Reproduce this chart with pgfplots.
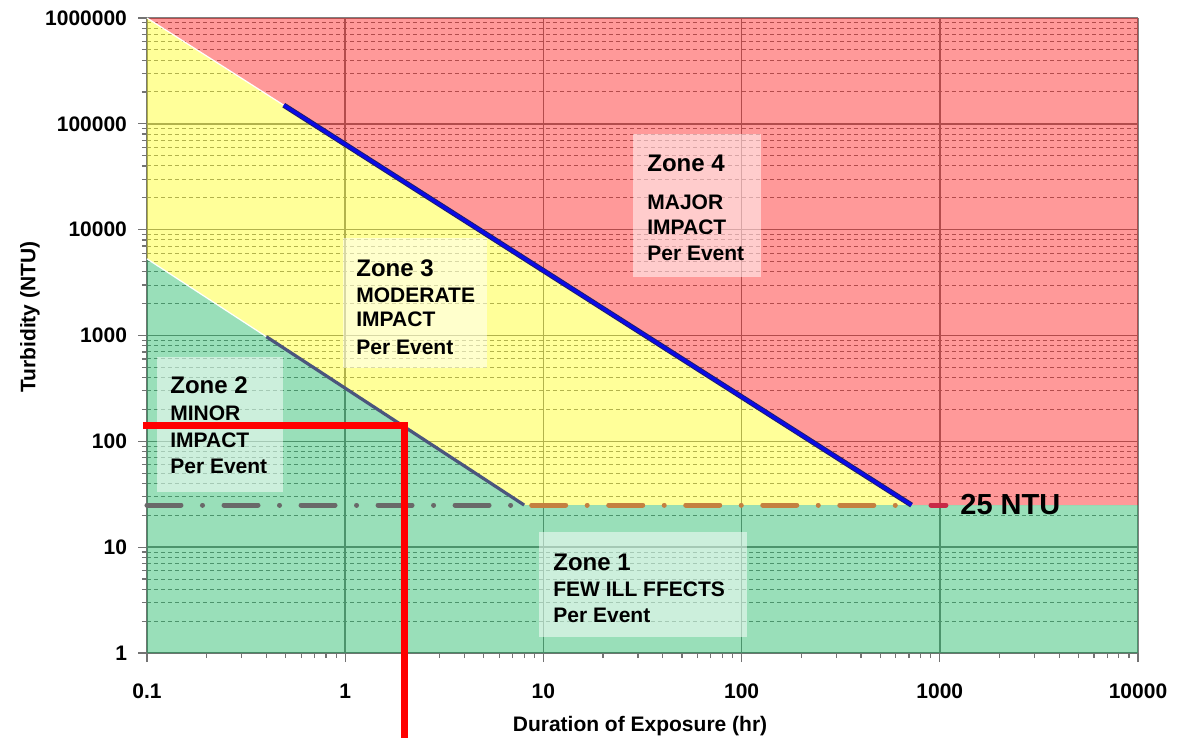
\documentclass[border=0pt]{standalone}
\usepackage{fontspec}
\setmainfont{Liberation Sans}
\usepackage{pgfplots}
\pgfplotsset{compat=1.18}
\definecolor{zred}{RGB}{255,0,0}
\definecolor{zyel}{RGB}{255,255,0}
\definecolor{zgrn}{RGB}{0,176,80}
\definecolor{dgray}{RGB}{105,105,105}
\definecolor{dbrown}{RGB}{196,128,64}
\definecolor{dcrim}{RGB}{200,40,70}
\definecolor{lblue}{RGB}{10,10,230}
\definecolor{lnavy}{RGB}{30,30,110}
\definecolor{lslate}{RGB}{75,85,125}
\begin{document}
\begin{tikzpicture}
\begin{axis}[
  xmode=log, ymode=log,
  scale only axis, width=495.5pt, height=317.5pt,
  xmin=0.1, xmax=10000, ymin=1, ymax=1000000,
  axis lines*=left,
  axis line style={draw=black!55, line width=0.8pt},
  tick align=outside,
  major tick length=4.5pt, minor tick length=2.5pt,
  every tick/.style={draw=black!55, line width=0.6pt},
  xtick={0.1,1,10,100,1000,10000},
  xticklabels={0.1,1,10,100,1000,10000},
  ytick={1,10,100,1000,10000,100000,1000000},
  yticklabels={1,10,100,1000,10000,100000,1000000},
  minor xtick={0.2,0.3,0.4,0.5,0.6,0.7,0.8,0.9,2,3,4,5,6,7,8,9,20,30,40,50,60,70,80,90,200,300,400,500,600,700,800,900,2000,3000,4000,5000,6000,7000,8000,9000},
  minor ytick={2,3,4,5,6,7,8,9,20,30,40,50,60,70,80,90,200,300,400,500,600,700,800,900,2000,3000,4000,5000,6000,7000,8000,9000,20000,30000,40000,50000,60000,70000,80000,90000,200000,300000,400000,500000,600000,700000,800000,900000},
  xmajorgrids, ymajorgrids, yminorgrids,
  major grid style={draw=black!50, line width=0.75pt},
  minor grid style={draw=black!50, line width=0.5pt, dash pattern=on 2pt off 1.5pt},
  ticklabel style={font=\fontsize{10.5}{12}\selectfont\bfseries, text=black},
  xticklabel style={yshift=-7.5pt},
  yticklabel style={xshift=-2pt},
  xlabel={Duration of Exposure (hr)},
  ylabel={Turbidity (NTU)},
  label style={font=\fontsize{10.5}{12}\selectfont\bfseries},
  xlabel style={at={(rel axis cs:0.4975,-0.115)}, anchor=center},
  ylabel style={at={(rel axis cs:-0.118,0.529)}, anchor=center, rotate=0},
  clip=false,
]
% zone fills
\addplot[draw=none, fill=zred, fill opacity=0.4] coordinates {(0.1,1000000) (10000,1000000) (10000,25) (720,25)};
\addplot[draw=none, fill=zyel, fill opacity=0.4] coordinates {(0.1,1000000) (720,25) (8,25) (0.1,5300)};
\addplot[draw=none, fill=zgrn, fill opacity=0.4] coordinates {(0.1,5300) (8,25) (10000,25) (10000,1) (0.1,1)};
% white seams
\addplot[white, line width=0.6pt] coordinates {(0.1,1000000) (0.49,150000)};
\addplot[white, line width=0.6pt] coordinates {(0.1,5300) (0.4,975)};
% label boxes
\fill[white, fill opacity=0.5] (rel axis cs:0.4904,0.8173) rectangle (rel axis cs:0.6196,0.5921);
\fill[white, fill opacity=0.5] (rel axis cs:0.1978,0.6535) rectangle (rel axis cs:0.3431,0.4488);
\fill[white, fill opacity=0.5] (rel axis cs:0.0101,0.4661) rectangle (rel axis cs:0.1372,0.2535);
\fill[white, fill opacity=0.5] (rel axis cs:0.3956,0.1906) rectangle (rel axis cs:0.6054,0.0252);
% 25 NTU threshold dash-dot
\addplot[dgray, line width=2.5pt, line cap=round, dash pattern=on 17pt off 10.75pt on 0.01pt off 10.75pt] coordinates {(0.1,25) (8,25)};
\addplot[dbrown, line width=2.5pt, line cap=round, dash pattern=on 17pt off 10.75pt on 0.01pt off 10.75pt, dash phase=34.75pt] coordinates {(8,25) (720,25)};
\addplot[dcrim, line width=2.5pt, line cap=round] coordinates {(903,25) (1074,25)};
% boundary lines
\addplot[lnavy, line width=2.6pt] coordinates {(0.49,150000) (720,25)};
\addplot[lblue, line width=1.6pt] coordinates {(0.49,150000) (720,25)};
\addplot[lslate, line width=1.6pt] coordinates {(0.4,975) (8,25)};
% red exposure marker
\addplot[red, line width=3.5pt, line join=miter] coordinates {(0.0955,142) (2,142) (2,0.157)};
% texts
\tikzset{zt/.style={anchor=west, inner sep=0pt, font=\fontsize{12}{14}\selectfont\bfseries},
         zs/.style={anchor=west, inner sep=0pt, font=\fontsize{10.5}{12}\selectfont\bfseries}}
\node[zt] at (rel axis cs:0.5045,0.7717) {Zone 4};
\node[zs] at (rel axis cs:0.5045,0.7102) {MAJOR};
\node[zs] at (rel axis cs:0.5045,0.6709) {IMPACT};
\node[zs] at (rel axis cs:0.5045,0.6299) {Per Event};
\node[zt] at (rel axis cs:0.2109,0.6063) {Zone 3};
\node[zs] at (rel axis cs:0.2109,0.5638) {MODERATE};
\node[zs] at (rel axis cs:0.2109,0.5260) {IMPACT};
\node[zs] at (rel axis cs:0.2109,0.4819) {Per Event};
\node[zt] at (rel axis cs:0.0232,0.4220) {Zone 2};
\node[zs] at (rel axis cs:0.0232,0.3780) {MINOR};
\node[zs] at (rel axis cs:0.0232,0.3354) {IMPACT};
\node[zs] at (rel axis cs:0.0232,0.2945) {Per Event};
\node[zt] at (rel axis cs:0.4097,0.1433) {Zone 1};
\node[zs] at (rel axis cs:0.4097,0.1008) {FEW ILL FFECTS};
\node[zs] at (rel axis cs:0.4097,0.0598) {Per Event};
\node[anchor=west, inner sep=0pt, font=\fontsize{14.5}{16}\selectfont\bfseries] at (rel axis cs:0.8204,0.2331) {25 NTU};
\coordinate (bbsw) at (rel axis cs:-0.14833,-0.13386);
\coordinate (bbne) at (rel axis cs:1.04642,1.02835);
\end{axis}
\pgfresetboundingbox
\path[use as bounding box] (bbsw) rectangle (bbne);
\end{tikzpicture}
\end{document}
